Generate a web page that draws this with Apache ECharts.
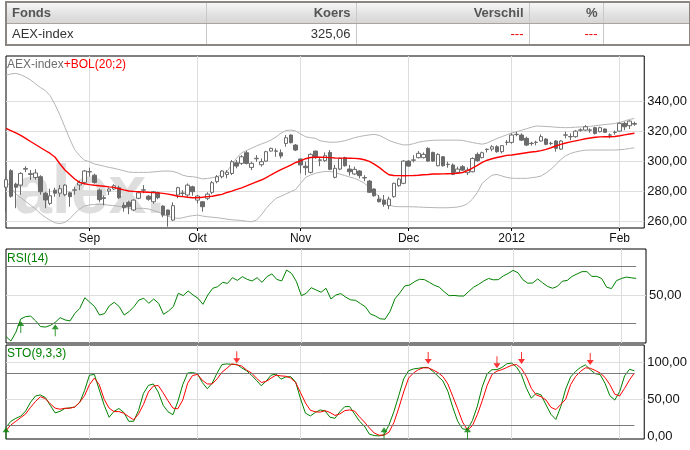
<!DOCTYPE html>
<html><head><meta charset="utf-8">
<script src="https://cdn.jsdelivr.net/npm/echarts/dist/echarts.min.js"></script>
<style>
html,body{margin:0;padding:0;background:#fff;}
#wrap{position:relative;width:690px;height:450px;overflow:hidden;font-family:"Liberation Sans",Arial,sans-serif;}
#chart{position:absolute;left:0;top:0;width:690px;height:450px;}
#tbl{position:absolute;left:5px;top:1px;width:684px;border-collapse:collapse;table-layout:fixed;border:2px solid #8c8682;}
#tbl td{height:20px;padding:0 5px;border-left:1px solid #c9c9c9;font-size:13px;white-space:nowrap;overflow:hidden;line-height:20px;}
#tbl tr.h td{background:linear-gradient(#f6f6f6,#e2e2e2 55%,#d6d6d6);color:#555;font-weight:bold;border-bottom:1px solid #a9a4a0;font-family:"Liberation Sans Narrow","Liberation Sans",sans-serif;font-size:13px;}
#tbl tr.d td{background:#fff;color:#333;}
#tbl td.r{text-align:right;}
#tbl tr.d td.red{color:#ee0000;}
</style>
</head><body>
<div id="wrap">
<div id="chart"></div>
<table id="tbl">
<colgroup><col style="width:200px"><col style="width:150px"><col style="width:173px"><col style="width:74px"><col style="width:87px"></colgroup>
<tr class="h"><td>Fonds</td><td class="r">Koers</td><td class="r">Verschil</td><td class="r">%</td><td></td></tr>
<tr class="d"><td>AEX-index</td><td class="r">325,06</td><td class="r red">---</td><td class="r red">---</td><td></td></tr>
</table>
</div>
<script>
// ---------- data ----------
const dates = [
'2011-08-09','2011-08-10','2011-08-11','2011-08-12','2011-08-15','2011-08-16','2011-08-17','2011-08-18','2011-08-19','2011-08-22','2011-08-23','2011-08-24','2011-08-25','2011-08-26','2011-08-29','2011-08-30','2011-08-31',
'2011-09-01','2011-09-02','2011-09-05','2011-09-06','2011-09-07','2011-09-08','2011-09-09','2011-09-12','2011-09-13','2011-09-14','2011-09-15','2011-09-16','2011-09-19','2011-09-20','2011-09-21','2011-09-22','2011-09-23','2011-09-26','2011-09-27','2011-09-28','2011-09-29','2011-09-30',
'2011-10-03','2011-10-04','2011-10-05','2011-10-06','2011-10-07','2011-10-10','2011-10-11','2011-10-12','2011-10-13','2011-10-14','2011-10-17','2011-10-18','2011-10-19','2011-10-20','2011-10-21','2011-10-24','2011-10-25','2011-10-26','2011-10-27','2011-10-28','2011-10-31',
'2011-11-01','2011-11-02','2011-11-03','2011-11-04','2011-11-07','2011-11-08','2011-11-09','2011-11-10','2011-11-11','2011-11-14','2011-11-15','2011-11-16','2011-11-17','2011-11-18','2011-11-21','2011-11-22','2011-11-23','2011-11-24','2011-11-25','2011-11-28','2011-11-29','2011-11-30',
'2011-12-01','2011-12-02','2011-12-05','2011-12-06','2011-12-07','2011-12-08','2011-12-09','2011-12-12','2011-12-13','2011-12-14','2011-12-15','2011-12-16','2011-12-19','2011-12-20','2011-12-21','2011-12-22','2011-12-23','2011-12-27','2011-12-28','2011-12-29','2011-12-30',
'2012-01-02','2012-01-03','2012-01-04','2012-01-05','2012-01-06','2012-01-09','2012-01-10','2012-01-11','2012-01-12','2012-01-13','2012-01-16','2012-01-17','2012-01-18','2012-01-19','2012-01-20','2012-01-23','2012-01-24','2012-01-25','2012-01-26','2012-01-27','2012-01-30','2012-01-31',
'2012-02-01','2012-02-02','2012-02-03','2012-02-06'];

const tickDates = ['2011-09-01','2011-10-03','2011-11-01','2011-12-01','2012-01-02','2012-02-01'];
const tickLabels = ['Sep','Okt','Nov','Dec','2012','Feb'];

const opens = [
283,294,285,284.4,295,292,289.5,290,279,272.2,
281,279,278,279.3,281,284.5,286.2,293.2,291,281,
276,280.4,281.8,282.7,271,273,267.8,275.6,281,277,
273.3,279.3,270.4,267.8,261.1,277.8,278.9,277.8,283.3,274.4,
273.3,275.6,279.6,286.7,290,291.5,292.2,299.3,298.9,306,
296.2,302,298,300.4,307.1,307.2,306,312.2,317.8,311.1,
301.8,297,292.9,307.1,301.2,300.7,306.2,289.6,295.1,302.7,
295.1,291.8,293.8,289.4,287.1,281.8,275.1,274.4,270.7,276.7,
284,285.6,300.4,301,302.7,302.7,308.9,306.2,297.3,303.3,
298.3,297.8,292.9,296.7,292.7,293.3,304.9,302.7,308.1,308.4,
310,306.7,312.8,312.9,318.1,317.8,315.6,312.1,312.8,313.8,
315.1,312.1,313.8,308.4,317.7,316.6,316.7,321,321.1,321.2,
322.7,320,321.8,317.7,319.5,320.4,325.6,324,325.5];
const closes = [
288,277,283,292.2,295.5,291.5,292.5,280,274.5,277.3,
279,282,284.4,276.7,281.3,286,293.8,293.4,286.2,274.7,
275.5,281.8,284,276,269.3,270,274.4,279.3,281.3,275,
280,276,264.4,264.4,270.7,282.7,279.1,284.4,280,277.1,
270,278.4,286,290,293.8,293,300,297.1,303.3,298.9,
298.9,302.3,300,306.7,308.9,307,303.8,316,312.7,307.8,
297.8,296,304.9,302.7,301,304,294.9,295.6,302.2,297.3,
293.3,294.9,290.7,289.2,279.6,277.3,273.3,271.6,275.1,285.6,
288.4,300.4,297.1,301.2,305.6,304.9,300.4,300.4,304.9,297.3,
298.1,291.6,295.1,294.4,294.4,302.2,300.7,306,308.3,310,
306.7,310.7,313,317.8,318.3,314.4,311.1,312.3,313,316.7,
311.6,312.3,308.9,313.8,317.9,316.8,320.4,321.2,323.3,321,
318.9,322.7,319.6,317.9,319.7,325.6,323.3,327.1,325.06];
const lows = [
266.5,276,269,278,293,287.8,288,278,269,271,
276.7,276.7,277,270,278,281,285,290,285.5,273,
271,277.8,281,275,266.7,265,267,275,279,274,
272,275,263,256.7,260.5,275.6,276.7,276.7,277.3,272.2,
266.7,274.4,278.4,285.6,288.9,288.9,291.1,295.6,297.8,298.2,
294.4,300,296.7,300,306.7,303.3,302.2,310,312.2,307.1,
292.2,291,292.2,302,297,300,294.4,288.9,294.4,296.7,
290.7,291.1,288.9,287,279.1,276.7,272.9,270,268.4,276,
283.3,285,296.7,299.6,302.2,302.2,300,300,297,296.7,
296,291.1,292.2,293.8,291.1,292.9,300,302.2,306.2,307,
306,305.6,311,312,317,313.8,310.4,310.7,311,313.3,
311,311,306.7,307.8,315.6,314.4,316,320,320.4,319.3,
318.2,319.6,319.3,315.6,318,320,321,321.8,324];
const highs = [
290,295,286,293,297,294.5,295,291,280,282,
282.7,284.5,285,280,283.3,287.3,294.5,296,292,282,
277.5,282.7,285,284,272.9,274,275,280,284.4,277.8,
280.5,280,271,268,272.9,283.3,281,285.5,284,277.8,
273.8,279.6,287.1,291.1,294.4,294.4,301.1,301.1,304.4,307.3,
300,304.4,302.2,307.3,309.3,308.9,308.2,317.8,318.2,311.8,
302.2,300,305.6,307.3,303.3,306.2,307.8,297.8,302.7,303.3,
297.8,296.7,294.4,291,287.8,282.2,277.8,277.8,276.7,286,
289.3,301.1,301.1,304.4,307.1,306.2,309.6,306.7,305.6,303.8,
300,298.9,296.7,297.8,296.2,302.9,306.2,306.7,308.9,311,
311,311.1,314.4,318.9,320,318.9,316.7,313.3,314,318.2,
315.6,313.3,314.4,314.4,320,318.9,321.1,322.2,324.4,322.2,
323.3,323.3,322.2,318.9,320.7,326.2,326.7,327.6,326.7];

const bolUpper = [
357.8,358.5,358.9,358,356.5,354.5,352,349.5,347.5,344,
338,331,323,315,308,304,301,300,298.5,297.8,
297,296.2,295.6,294.8,294,293.1,292.9,292.9,292.9,292.9,
293.2,293.5,293.8,293.8,293.5,292.5,291,290.2,290,289.5,
288.5,288.8,289.3,290,291.5,293.5,298,302.5,306,307.5,
309,310.5,311.8,313,314.5,316.5,319,320.8,321.1,320.5,
318.5,316.7,316,315.6,314,313.4,313,313,313.3,314,
315,316,316.8,317.4,317.9,318.2,317.6,316,314.2,313,
312,311.2,311.3,312,313,313.6,314,314.3,314.4,314.4,
314.4,314.4,314.4,314.2,313.5,312.8,312.2,311.7,312.5,314,
315.5,316.7,318,319.2,320,321,322,323,323.8,323.7,
323.5,323.3,323,322.8,322.7,322.8,323,323.2,323.3,323.6,
324,324.4,324.8,325.1,325.5,326.2,327.2,328.2,328.8];
const bolMiddle = [
322.3,320.8,319.2,317.6,315.6,313.5,311.5,309.5,307.5,305.5,
303,298.5,294.5,291.5,288.5,286.2,285.3,284.7,284.3,284,
283.6,283.2,282.9,282,281.2,280.5,280.2,280,279.8,279.6,
279.4,279.2,278.9,278.4,277.8,277,276.7,276.3,276,276,
276.3,276.7,277,277.6,278.2,279.5,280.4,281.5,282.6,283.9,
285.2,286.5,287.8,289.4,291.3,293,294.7,296.3,297.8,299.5,
300.5,302,302.8,303,303,302.9,302.7,302.5,302.4,302.4,
302.3,302.2,302,301.3,300.2,298.4,296.2,293.6,291.3,290.8,
290.7,290.6,290.7,290.8,291,291.3,291.5,291.8,291.8,291.9,
292,292.1,292.3,292.8,294,295.8,297.6,299.5,301,302,
302.8,303.5,304.2,304.5,305,305.5,306,306.5,306.8,307.4,
308.2,309.3,310.5,311.6,312.5,313.2,313.9,314.6,315.3,315.8,
316.3,316.6,316.7,316.7,316.8,317.3,317.9,318.5,319];
const bolLower = [
287,283,278.5,276,273.5,271,268.5,265.5,263,261,
259.2,258.8,259.5,262,265.5,268.5,270.5,271.2,271.5,271.6,
271.4,271,270.7,270.3,269.8,269,268.9,268.9,268.9,268.5,
267.5,266.5,265,263.5,262.8,262.2,262.6,263.5,264,264.4,
263.8,263.3,263,262.7,262.2,261.7,261.3,261.1,260.8,260.3,
260,261,264.5,268.9,272.5,275.6,277,278.5,280,281.5,
285.5,289.5,291.1,292.3,293,293.5,293.5,292.8,291.8,290.8,
289.8,288.9,287.5,285.6,283,280,276.5,273.5,271.2,270.2,
270,270,270,269.9,269.8,269.6,269.5,269.4,269.3,269.3,
269.3,269.5,269.8,270.5,272,275,279.5,285.6,288.5,291,
291.5,290.5,289.5,289,288.9,288.9,288.9,289.3,289.7,290.5,
292.5,295,298,301.5,304,305.5,306.5,307.2,307.7,307.8,
307.8,307.8,307.8,307.8,307.8,308,308.3,308.8,309.3];

const rsi = [
20.9,17.9,24,33.3,34.9,35.3,32,28,27.6,28.8,
30.9,34.2,32.6,31.9,37.2,40.7,48.1,45,41.9,36,
37,42.5,44.9,41.9,36,38.4,41.9,46.5,47.7,44.2,
47.2,44.2,36.5,38.8,41.9,51.2,49.6,52.8,50,47.7,
43.5,50,54.7,55.8,58.8,58.1,62.1,60.2,62.8,60.9,
59.8,62.1,58.8,62.8,64.7,60.9,59.8,67.4,65.1,59.3,
49.5,51.2,55.1,53.5,51.9,54.7,47.2,50,51,48.5,
46.6,46.3,44,41.8,36.8,35.4,33.4,33.1,38.5,47.3,
51.5,56.3,57,59.3,61,60.7,58.8,56.8,55.5,52.3,
49.5,49.7,49.3,49.3,52.5,55.5,57.4,59.7,61.5,60.6,
60.7,63.3,65,67.2,65.5,60.6,58.2,58.4,61.2,58.5,
56,54.7,56,59.6,60.2,63,64.7,66.3,66.3,63,
63,61.5,55.4,54.5,60,61.5,62.5,62,61.6];
const rsiLevels = [30, 70];
const rsiTicks = [50];
const rsiBuyIdx = [3, 10];
const rsiBuyVal = [31.8, 29.6];

const stoK = [
11.8,20,24,27,34,46,54.5,56,52.5,42,
31.5,33.5,37.5,38.3,39.5,45.5,62,83,84,63,
42,25.5,33.5,37.5,32,20,20,35,58,69,
71,60,42,33,29,47,70,86,86.5,85,
72.9,64.5,72,86,97.5,98.4,97.7,97.8,93,89,
83,76,68.5,75,83,84.5,77.5,80.5,81,73.5,
50.5,31,27.3,32,35.5,34,25.5,24.1,33,40,
40.1,30,20,13.5,2.5,0.5,0,1.5,15,33,
55,78,89,91.5,92.4,93.5,93.4,88,81.5,75,
61,39,20,9.5,9,21,40.5,67,85,90.5,
90.5,93.5,98.5,99.5,94,83.3,65.1,51.5,58.3,56,
42.3,29.5,22.5,40,64,80.5,88,93.5,97,90.5,
85,84,72,55,49,60.6,82,91,89];
const stoD = [
7.3,15,20,25,30,39,47,53.5,51,44,
38,36.5,37.8,37.8,39.5,46,55,70,79,70,
50,38,33.2,33.2,31,26.4,22,30,43,60,
68,69,59,48,38,37,49,72,82.5,84,
76,71,71,78,87,92.4,98.4,97,95.5,90,
86,79,73,74.5,79,83,82,81.5,79,73,
59,45,35,33,32.5,34.5,32,28,30,34.5,
35.5,34,26,19,11,4,1,1,5,18,
38,60,79,86,90.5,93,93,90,86.5,81,
71,54,37,19,8,14,29,48,69,84,
88.5,90.5,93.5,96.5,97.5,92,81,65,56,53.5,
49,39,36,43,50,70,81,88,93,92.5,
89.5,86,80,70,57,54.6,65.1,76.5,86];
const stoLevels = [15, 85];
const stoTickLines = [50, 100];
const stoTickLabels = [0, 50, 100];
const stoBuyIdx = [0, 77, 94];
const stoBuyVal = [12, 12, 12];
const stoSellIdx = [47, 86, 100, 105, 119];
const stoSellVal = [99.3, 98.4, 92.5, 98.4, 97];

const priceTicks = [260, 280, 300, 320, 340];

// ---------- chart ----------
const cats = dates.concat(['', ' ']);
const fmt2 = v => Number(v).toFixed(2).replace('.', ',');
const isTick = i => tickDates.indexOf(cats[i]) >= 0;
const FONT = '"Liberation Sans", Arial, sans-serif';
const ARROW_DOWN = 'path://M3,0H4V7H7L3.5,12L0,7H3Z';
const ARROW_UP = 'path://M3.5,0L7,5H4V12H3V5H0Z';

function xAxisFor(gi, showLabels) {
  return {
    type: 'category', gridIndex: gi, data: cats, boundaryGap: false,
    axisLine: {show: false},
    axisTick: {show: showLabels, interval: (i) => isTick(i), length: 3, lineStyle: {color: '#000'}},
    axisLabel: {show: showLabels, interval: (i) => isTick(i), color: '#111', fontSize: 12, margin: 5,
      fontFamily: FONT, formatter: (v) => { const k = tickDates.indexOf(v); return k >= 0 ? tickLabels[k] : ''; }},
    splitLine: {show: true, interval: (i) => isTick(i), lineStyle: {color: '#dddddd', width: 1}}
  };
}
function levelLines(levels) {
  return levels.map(v => [{coord: [dates[0], v]}, {coord: [dates[dates.length - 1], v]}]);
}

const ohlc = dates.map((d, i) => [opens[i], closes[i], lows[i], highs[i]]);

const chart = echarts.init(document.getElementById('chart'), null, {renderer: 'canvas'});
chart.setOption({
  animation: false,
  backgroundColor: 'transparent',
  textStyle: {fontFamily: FONT},
  title: [
    {left: 7, top: 59, padding: 0, text: '{a|AEX-index}{b|+BOL(20;2)}',
     textStyle: {fontSize: 12, fontWeight: 'normal', fontFamily: FONT,
       rich: {a: {color: '#6e6e6e', fontSize: 12, fontFamily: FONT}, b: {color: '#ff0000', fontSize: 12, fontFamily: FONT}}}},
    {left: 7, top: 253, padding: 0, text: 'RSI(14)', textStyle: {fontSize: 12, fontWeight: 'normal', color: '#008000', fontFamily: FONT}},
    {left: 7, top: 348, padding: 0, text: 'STO(9,3,3)', textStyle: {fontSize: 12, fontWeight: 'normal', color: '#008000', fontFamily: FONT}}
  ],
  graphic: [
    {type: 'text', left: 14, top: 160, z: -1, silent: true,
     style: {text: 'alex.', font: 'bold 68px "Liberation Sans", Arial, sans-serif', fill: '#dedede'}}
  ],
  grid: [
    {left: 6, right: 44, top: 56, height: 172, show: true, borderColor: '#000', borderWidth: 1, backgroundColor: 'transparent'},
    {left: 6, right: 44, top: 249, height: 94, show: true, borderColor: '#000', borderWidth: 1, backgroundColor: 'transparent'},
    {left: 6, right: 44, top: 345, height: 94, show: true, borderColor: '#000', borderWidth: 1, backgroundColor: 'transparent'}
  ],
  xAxis: [xAxisFor(0, true), xAxisFor(1, false), xAxisFor(2, false)],
  yAxis: [
    {type: 'value', gridIndex: 0, position: 'right', min: 255.8, max: 370.5,
     axisLine: {show: false}, axisTick: {show: false, customValues: priceTicks},
     axisLabel: {customValues: priceTicks, formatter: fmt2, color: '#111', fontSize: 13, margin: 3, fontFamily: FONT},
     splitLine: {show: true, lineStyle: {color: '#dddddd'}}},
    {type: 'value', gridIndex: 1, position: 'right', min: 16.5, max: 82.1,
     axisLine: {show: false}, axisTick: {show: false, customValues: rsiTicks},
     axisLabel: {customValues: rsiTicks, formatter: fmt2, color: '#111', fontSize: 13, margin: 3, fontFamily: FONT},
     splitLine: {show: true, lineStyle: {color: '#dddddd'}}},
    {type: 'value', gridIndex: 2, position: 'right', min: -4.2, max: 124.2,
     axisLine: {show: false}, axisTick: {show: false, customValues: stoTickLines},
     axisLabel: {customValues: stoTickLabels, formatter: fmt2, color: '#111', fontSize: 13, margin: 3, fontFamily: FONT},
     splitLine: {show: true, lineStyle: {color: '#dddddd'}}}
  ],
  series: [
    {type: 'line', xAxisIndex: 0, yAxisIndex: 0, data: bolUpper, symbol: 'none', lineStyle: {color: '#b4b4b4', width: 1}, z: 2},
    {type: 'line', xAxisIndex: 0, yAxisIndex: 0, data: bolLower, symbol: 'none', lineStyle: {color: '#b4b4b4', width: 1}, z: 2},
    {type: 'candlestick', xAxisIndex: 0, yAxisIndex: 0, data: ohlc, barWidth: 4, z: 3,
     itemStyle: {color: '#ffffff', color0: '#6b6b6b', borderColor: '#6b6b6b', borderColor0: '#6b6b6b', borderWidth: 1}},
    {type: 'line', xAxisIndex: 0, yAxisIndex: 0, data: bolMiddle, symbol: 'none', lineStyle: {color: '#ff0000', width: 1.4}, z: 4},

    {type: 'line', xAxisIndex: 1, yAxisIndex: 1, data: rsi, symbol: 'none', lineStyle: {color: '#008000', width: 1}, z: 3,
     markLine: {silent: true, symbol: ['none', 'none'], label: {show: false}, animation: false,
       lineStyle: {color: '#7a7a7a', width: 1, type: 'solid'}, data: levelLines(rsiLevels)}},
    {type: 'scatter', xAxisIndex: 1, yAxisIndex: 1, data: rsiBuyIdx.map((k, j) => [dates[k], rsiBuyVal[j]]),
     symbol: ARROW_UP, symbolSize: [7, 12], symbolOffset: [0, 6], itemStyle: {color: '#008000'}, z: 5},

    {type: 'line', xAxisIndex: 2, yAxisIndex: 2, data: stoK, symbol: 'none', lineStyle: {color: '#008000', width: 1}, z: 3,
     markLine: {silent: true, symbol: ['none', 'none'], label: {show: false}, animation: false,
       lineStyle: {color: '#7a7a7a', width: 1, type: 'solid'}, data: levelLines(stoLevels)}},
    {type: 'line', xAxisIndex: 2, yAxisIndex: 2, data: stoD, symbol: 'none', lineStyle: {color: '#ff0000', width: 1}, z: 4},
    {type: 'scatter', xAxisIndex: 2, yAxisIndex: 2, data: stoSellIdx.map((k, j) => [dates[k], stoSellVal[j]]),
     symbol: ARROW_DOWN, symbolSize: [7, 12], symbolOffset: [0, -6], itemStyle: {color: '#ff0000'}, z: 5},
    {type: 'scatter', xAxisIndex: 2, yAxisIndex: 2, data: stoBuyIdx.map((k, j) => [dates[k], stoBuyVal[j]]),
     symbol: ARROW_UP, symbolSize: [7, 12], symbolOffset: [0, 6], itemStyle: {color: '#008000'}, z: 5}
  ]
});
</script>
</body></html>
